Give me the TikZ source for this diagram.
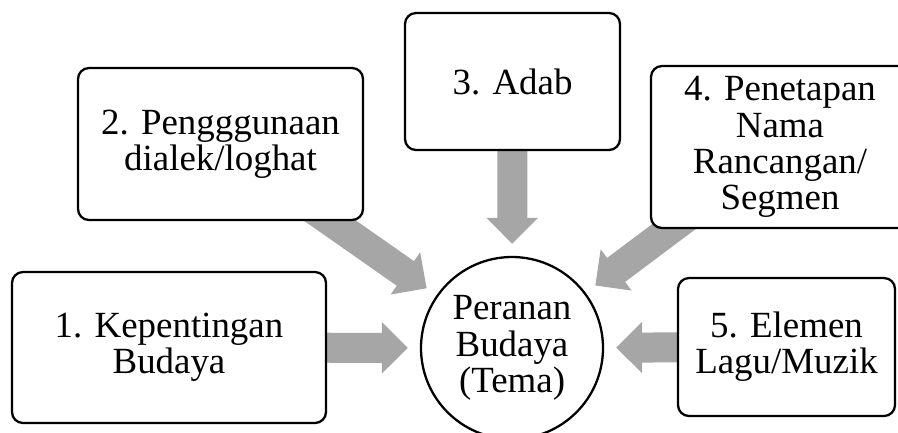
\documentclass[tikz,border=0pt]{standalone}
\usepackage{fontspec}
\setmainfont{Liberation Serif}
\usepackage{tikz}
\usetikzlibrary{calc, positioning, arrows.meta, backgrounds}
\definecolor{arrowgray}{RGB}{166,166,166}
\tikzset{
	line width = .65pt,
	font = \fontsize{10.5pt}{10.3pt}\selectfont,
	topic/.style={
		draw,
		fill=white,
		rounded corners=.11cm,
		align=center,
		inner sep=1pt,
		line width=.65pt
	},
	hub/.style={
		draw,
		circle,
		fill=white,
		align=center,
		inner sep=0pt,
		minimum size=1.82cm,
		line width=.65pt
	},
	feed/.style={
		draw=arrowgray,
		line width=.3cm,
		-{Triangle[length=.26cm, width=.5cm]},
		shorten >=.12cm,
		shorten <=-.3cm
	}
}

\begin{document}
\begin{tikzpicture}
		\useasboundingbox (0,0) rectangle (8.98,-4.32);
		\node[hub] at (5.12,-3.48) (peranan) {Peranan\\Budaya\\(Tema)};
		\node[topic, minimum width=3.14cm, minimum height=1.51cm] at (1.69,-3.475) (kepentingan) {1. Kepentingan\\Budaya};
		\node[topic, minimum width=2.85cm, minimum height=1.52cm] at (2.205,-1.44) (dialek) {2. Pengggunaan\\dialek/loghat};
		\node[topic, minimum width=2.15cm, minimum height=1.37cm] at (5.125,-.815) (adab) {3. Adab};
		\node[topic, minimum width=2.58cm, minimum height=1.62cm] at (7.80,-1.47) (nama) {4. Penetapan\\Nama\\Rancangan/\\Segmen};
		\node[topic, minimum width=2.17cm, minimum height=1.38cm] at (7.865,-3.47) (lagu) {5. Elemen\\Lagu/Muzik};
		% arrows go under the boxes
		\begin{scope}[on background layer]
			\draw[feed] (kepentingan) -- (peranan);
			\draw[feed] (dialek) -- (peranan);
			\draw[feed] (adab) -- (peranan);
			\draw[feed] (nama) -- (peranan);
			\draw[feed] (lagu) -- (peranan);
		\end{scope}
	\end{tikzpicture}
\end{document}
